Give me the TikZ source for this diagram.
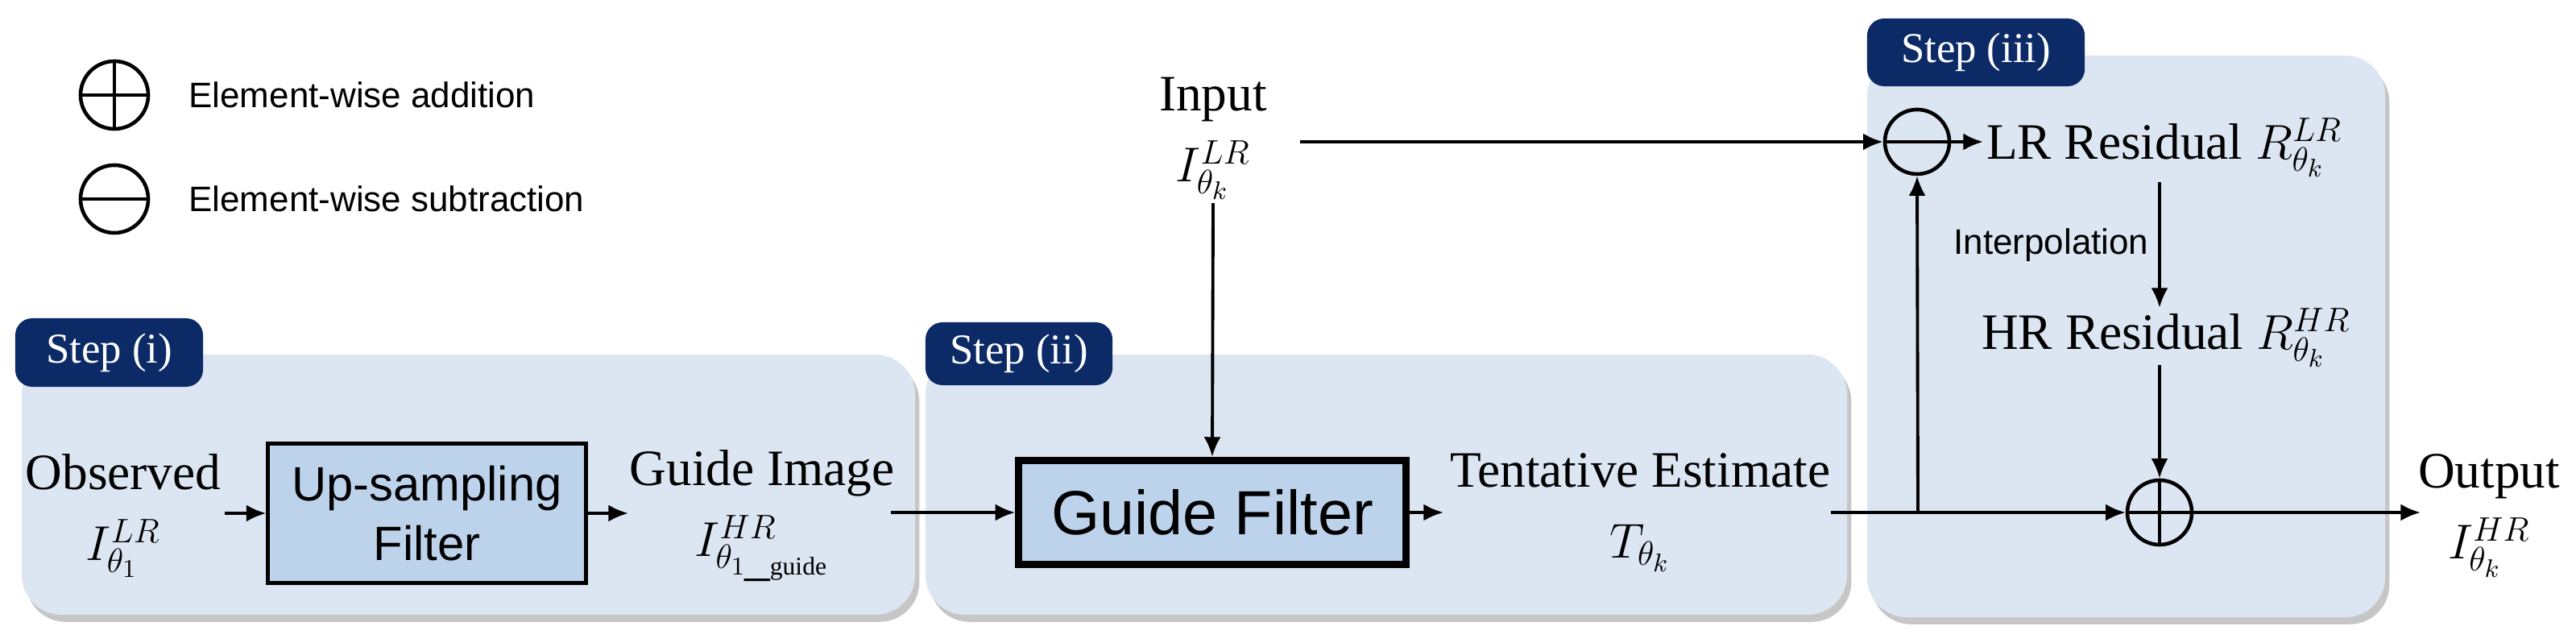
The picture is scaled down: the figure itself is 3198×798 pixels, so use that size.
\documentclass[tikz,border=0pt]{standalone}
\usepackage{fontspec}
\setmainfont{Liberation Serif}
\setsansfont{Liberation Sans}
\usetikzlibrary{positioning}
\usetikzlibrary{shadows}
\usetikzlibrary{arrows.meta}

\definecolor{panelblue}{HTML}{DCE6F2}
\definecolor{navy}{HTML}{0C2A66}
\definecolor{boxblue}{HTML}{BDD3EC}

\tikzset{
  panel/.style={fill=panelblue, rounded corners=14pt, drop shadow={shadow xshift=1.5pt, shadow yshift=-2.5pt, opacity=0.45}},
  tab/.style={fill=navy, rounded corners=6pt, text=white, font=\fontsize{15}{18}\selectfont, inner sep=0pt},
  lbl/.style={align=center, font=\fontsize{18}{25}\selectfont, inner sep=1pt},
  op/.style={circle, draw, line width=1.3pt, minimum size=0.8cm, inner sep=0pt},
  arr/.style={-{Latex[length=7pt,width=6pt]}, line width=1.1pt},
  ln/.style={line width=1.1pt}
}

\begin{document}
\begin{tikzpicture}[x=0.01cm, y=-0.01cm]
\useasboundingbox (0,0) rectangle (3198,798);
%legend
\node[op, minimum size=0.84cm] (lplus) at (142,118) {};
\draw[line width=1.3pt] (lplus.north) -- (lplus.south) (lplus.west) -- (lplus.east);
\node[anchor=west, font=\sffamily\fontsize{12.5}{15}\selectfont] (ladd) at (222,118) {Element-wise addition};
\node[op, minimum size=0.84cm] (lminus) at (142,247) {};
\draw[line width=1.3pt] (lminus.west) -- (lminus.east);
\node[anchor=west, font=\sffamily\fontsize{12.5}{15}\selectfont] (lsub) at (222,247) {Element-wise subtraction};
%panels
\fill[panel] (27,440) rectangle (1136,763);
\fill[panel] (1149,440) rectangle (2293,763);
\fill[panel] (2318,69) rectangle (2961,766);
\node[tab, minimum width=2.33cm, minimum height=0.85cm] (tab1) at (135.5,437.5) {Step (i)};
\node[tab, minimum width=2.32cm, minimum height=0.78cm] (tab2) at (1265,439) {Step (ii)};
\node[tab, minimum width=2.7cm, minimum height=0.84cm] (tab3) at (2453,65) {Step (iii)};
%step (i)
\node[lbl] (obs) at (153,640) {Observed\\$I_{\theta_1}^{LR}$};
\node[draw, line width=1.4pt, fill=boxblue, minimum width=3.94cm, minimum height=1.73cm, align=center,
  font=\sffamily\fontsize{17}{21}\selectfont] (ups) at (530,637) {Up-sampling\\Filter};
\node[lbl] (guide) at (946,640) {Guide Image\\$I_{\theta_{1\_\mathrm{guide}}}^{HR}$};
%step (ii)
\node[lbl] (input) at (1506,172) {Input\\$I_{\theta_k}^{LR}$};
\node[draw, line width=2.6pt, fill=boxblue, minimum width=4.8cm, minimum height=1.29cm,
  font=\sffamily\fontsize{22}{26}\selectfont] (gf) at (1505,636) {Guide Filter};
\node[lbl] (tent) at (2036,636) {Tentative Estimate\\$T_{\theta_k}$};
%step (iii)
\node[op] (minus) at (2380,176) {};
\draw[line width=1.3pt] (minus.west) -- (minus.east);
\node[lbl, anchor=west] (lrres) at (2462,183) {LR Residual $R_{\theta_k}^{LR}$};
\node[lbl, anchor=west] (hrres) at (2456,419) {HR Residual $R_{\theta_k}^{HR}$};
\node[op] (plus) at (2681,636) {};
\draw[line width=1.3pt] (plus.north) -- (plus.south) (plus.west) -- (plus.east);
\node[lbl] (out) at (3090,640) {Output\\$I_{\theta_k}^{HR}$};
\coordinate (branch) at (2381,636);
\coordinate (outend) at (3005,636);
%connectors
\draw[arr] (279,637) -- (ups.west);
\draw[arr] (ups.east) -- (780,637);
\draw[arr] (1106,636) -- (gf.west);
\draw[arr] (input.south) -- (gf.north);
\draw[arr] (1614,176) -- (minus.west);
\draw[arr] (minus.east) -- (lrres.west |- minus.east);
\draw[arr] (gf.east) -- (1792,636);
\draw[ln] (2273,636) -- (branch);
\draw[arr] (branch) -- (plus.west);
\draw[arr] (branch) -- (minus.south);
\draw[arr] (2681,226) -- node[left, font=\sffamily\fontsize{12.5}{15}\selectfont] {Interpolation} (2681,382);
\draw[arr] (2681,453) -- (plus.north);
\draw[arr] (plus.east) -- (outend);
\end{tikzpicture}
\end{document}
